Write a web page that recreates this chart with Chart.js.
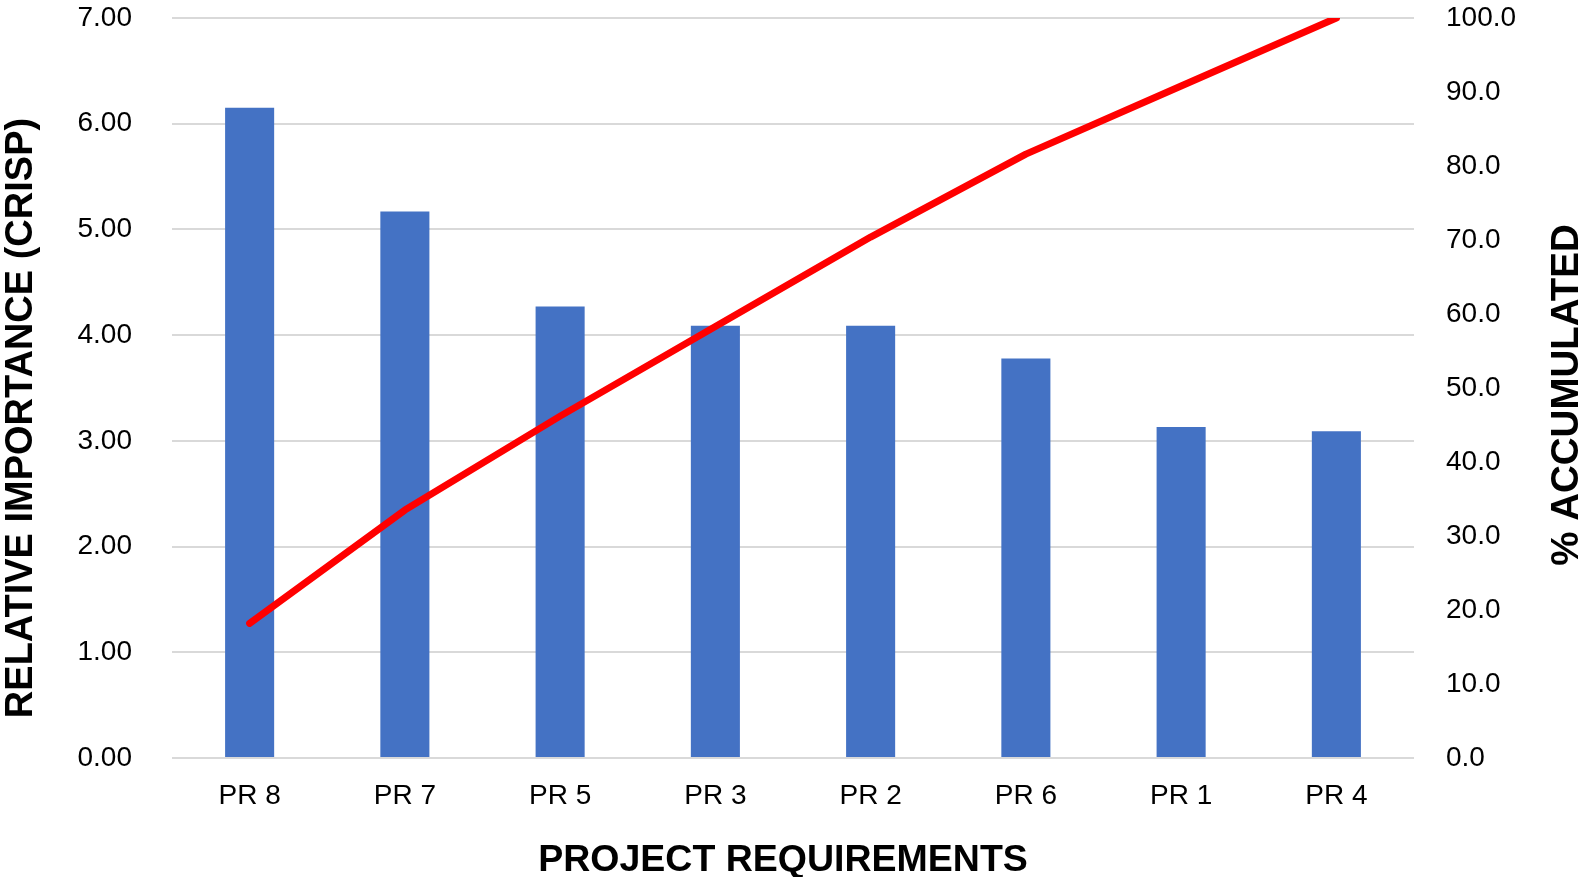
<!DOCTYPE html>
<html><head><meta charset="utf-8">
<script src="https://cdn.jsdelivr.net/npm/chart.js@4.4.1/dist/chart.umd.min.js"></script>
<style>html,body{margin:0;padding:0;background:#fff;overflow:hidden}#wrap{width:1584px;height:877px;position:relative}</style>
</head><body><div id="wrap"><canvas id="c" width="1584" height="877"></canvas></div>
<script>
const categories = ['PR 8', 'PR 7', 'PR 5', 'PR 3', 'PR 2', 'PR 6', 'PR 1', 'PR 4'];
const importance = [6.15, 5.17, 4.27, 4.09, 4.09, 3.78, 3.13, 3.09];
const accumulated = [18.2, 33.5, 46.2, 58.3, 70.4, 81.6, 90.8, 100.0];
const leftTickLabels = ['0.00', '1.00', '2.00', '3.00', '4.00', '5.00', '6.00', '7.00'];
const rightTickLabels = ['0.0', '10.0', '20.0', '30.0', '40.0', '50.0', '60.0', '70.0', '80.0', '90.0', '100.0'];
const xTitle = 'PROJECT REQUIREMENTS';
const yTitle = 'RELATIVE IMPORTANCE (CRISP)';
const y1Title = '% ACCUMULATED';

const FONT = "'Liberation Sans', Arial, sans-serif";

const titlePlugin = {
  id: 'titles',
  afterDraw(chart) {
    const ctx = chart.ctx;
    ctx.save();
    ctx.fillStyle = '#000';
    ctx.textAlign = 'center';
    ctx.textBaseline = 'alphabetic';
    ctx.font = "bold 37.5px " + FONT;
    ctx.fillText(xTitle, 783, 871);
    ctx.font = "bold 38px " + FONT;
    ctx.save();
    ctx.translate(32, 418);
    ctx.rotate(-Math.PI / 2);
    ctx.fillText(yTitle, 0, 0);
    ctx.restore();
    ctx.font = "bold 38.5px " + FONT;
    ctx.save();
    ctx.translate(1578, 395);
    ctx.rotate(-Math.PI / 2);
    ctx.fillText(y1Title, 0, 0);
    ctx.restore();
    ctx.restore();
  }
};

new Chart(document.getElementById('c'), {
  data: {
    labels: categories,
    datasets: [
      {
        type: 'line',
        label: y1Title,
        data: accumulated,
        yAxisID: 'y1',
        borderColor: '#FF0000',
        borderWidth: 7,
        borderCapStyle: 'round',
        borderJoinStyle: 'round',
        pointRadius: 0,
        tension: 0,
        order: 0,
        clip: {left: 10, top: 0, right: 10, bottom: 10}
      },
      {
        type: 'bar',
        label: yTitle,
        data: importance,
        yAxisID: 'y',
        backgroundColor: '#4472C4',
        categoryPercentage: 1,
        barPercentage: 0.316,
        order: 1
      }
    ]
  },
  options: {
    responsive: false,
    animation: false,
    devicePixelRatio: 1,
    layout: {padding: {top: 18, left: 0, right: 0, bottom: 0}},
    plugins: {legend: {display: false}, tooltip: {enabled: false}},
    scales: {
      x: {
        offset: true,
        grid: {display: false, drawTicks: false},
        border: {display: false},
        ticks: {color: '#000', font: {family: FONT, size: 28}, padding: 21, maxRotation: 0},
        afterFit(s) { s.height = 119; s.paddingLeft = 0; s.paddingRight = 0; }
      },
      y: {
        position: 'left',
        min: 0, max: 7,
        grid: {color: '#D9D9D9', lineWidth: 2, drawTicks: false},
        border: {display: false},
        ticks: {stepSize: 1, color: '#000', font: {family: FONT, size: 28}, padding: 40,
          callback: (v, i) => leftTickLabels[i]},
        afterFit(s) { s.width = 172; s.paddingTop = 0; s.paddingBottom = 0; }
      },
      y1: {
        position: 'right',
        min: 0, max: 100,
        grid: {display: false, drawTicks: false},
        border: {display: false},
        ticks: {stepSize: 10, color: '#000', font: {family: FONT, size: 28}, padding: 32,
          callback: (v, i) => rightTickLabels[i]},
        afterFit(s) { s.width = 170; s.paddingTop = 0; s.paddingBottom = 0; }
      }
    }
  },
  plugins: [titlePlugin]
});
</script>
</body></html>
